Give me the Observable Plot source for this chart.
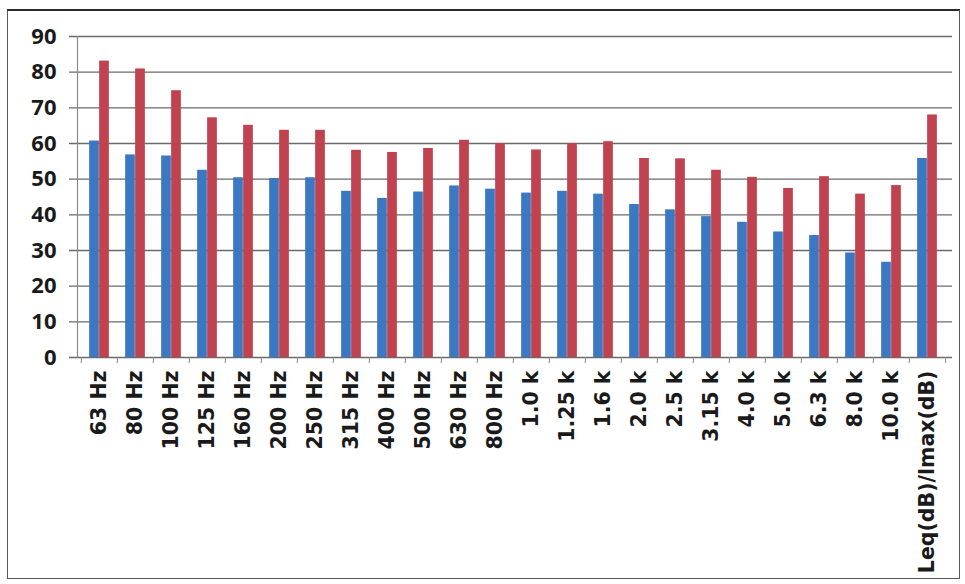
<!DOCTYPE html>
<html>
<head>
<meta charset="utf-8">
<script src="https://cdn.jsdelivr.net/npm/d3@7"></script>
<script src="https://cdn.jsdelivr.net/npm/@observablehq/plot@0.6"></script>
<style>
  html, body { margin: 0; padding: 0; background: #fff; }
  #wrap { position: relative; width: 965px; height: 584px; overflow: hidden; background: #fff; }
  #border { position: absolute; left: 7px; top: 9px; width: 953px; height: 570px;
            border: 1.5px solid #5a5a5a; border-top: 2.5px solid #2a2a2a; box-sizing: border-box; }
  #chart { position: absolute; left: 0; top: 0; }
</style>
</head>
<body>
<div id="wrap"><div id="border"></div><div id="chart"></div></div>
<script>
const categories = ["63 Hz","80 Hz","100 Hz","125 Hz","160 Hz","200 Hz","250 Hz","315 Hz","400 Hz","500 Hz","630 Hz","800 Hz","1.0 k","1.25 k","1.6 k","2.0 k","2.5 k","3.15 k","4.0 k","5.0 k","6.3 k","8.0 k","10.0 k","Leq(dB)/lmax(dB)"];
const blueValues = [60.7,56.8,56.5,52.5,50.4,50.2,50.4,46.6,44.6,46.4,48.1,47.2,46.1,46.6,45.8,42.9,41.4,39.5,37.9,35.2,34.2,29.3,26.7,55.8];
const redValues  = [83.1,80.9,74.8,67.2,65.1,63.7,63.7,58.1,57.5,58.6,60.9,60.0,58.2,60.0,60.5,55.8,55.7,52.5,50.5,47.4,50.7,45.8,48.2,68.0];
const yTicks = [0,10,20,30,40,50,60,70,80,90];

const W = 965, H = 584, mL = 77, mR = 17, mT = 36, mB = 227;
const bw = (W - mL - mR) / categories.length;
const barW = 10;

const blueData = categories.map((c, i) => ({cat: c, v: blueValues[i]}));
const redData = categories.map((c, i) => ({cat: c, v: redValues[i]}));
const boundaries = categories.map((c, i) => ({cat: c}));

const plot = Plot.plot({
  width: W, height: H,
  marginLeft: mL, marginRight: mR, marginTop: mT, marginBottom: mB,
  style: {background: "transparent", color: "#1a1a1a"},
  x: {type: "band", domain: categories, padding: 0},
  y: {domain: [0, 90]},
  marks: [
    Plot.ruleY(yTicks, {stroke: "#6a6a6a", strokeWidth: 1.4, insetLeft: -8, insetRight: -4}),
    Plot.frame({anchor: "left", stroke: "#8a8a8a", strokeWidth: 1.2}),
    Plot.ruleX(boundaries, {x: "cat", dx: -bw / 2, y1: 0, y2: 0, insetBottom: -6, stroke: "#8a8a8a", strokeWidth: 1}),
    Plot.ruleX([boundaries[boundaries.length - 1]], {x: "cat", dx: bw / 2, y1: 0, y2: 0, insetBottom: -6, stroke: "#8a8a8a", strokeWidth: 1}),
    Plot.barY(blueData, {x: "cat", y: "v", fill: "#3b78c4", insetLeft: bw / 2 - barW, insetRight: bw / 2}),
    Plot.barY(redData, {x: "cat", y: "v", fill: "#c0424f", insetLeft: bw / 2, insetRight: bw / 2 - barW}),
    Plot.axisY({ticks: yTicks, tickSize: 0, tickPadding: 21, label: null,
      fontSize: 22, fontWeight: "bold", fontFamily: "Open Sans"}),
    Plot.axisX({tickSize: 0, tickPadding: 13, tickRotate: -90, label: null,
      fontSize: 20.5, fontWeight: "bold", fontFamily: "DejaVu Sans"})
  ]
});
document.getElementById("chart").appendChild(plot);
</script>
</body>
</html>
